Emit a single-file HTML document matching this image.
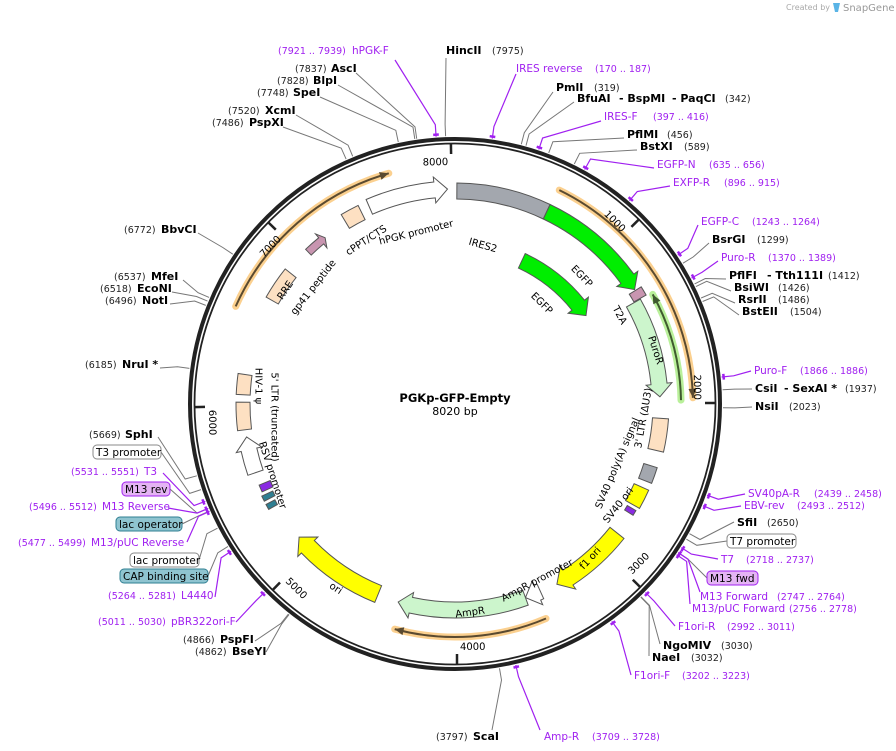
<!DOCTYPE html>
<html><head><meta charset="utf-8">
<style>
html,body{margin:0;padding:0;background:#fff;}
svg{display:block;font-family:"DejaVu Sans","Liberation Sans",sans-serif;}
.n{font-size:11px;font-weight:bold;fill:#000;}
.p{font-size:9.5px;fill:#222;}
.pu{font-size:10.5px;fill:#a020f0;}
.pp{font-size:9.5px;fill:#a020f0;}
.f{font-size:10.5px;fill:#000;}
.t{font-size:10px;fill:#000;}
</style></head><body>
<svg id="s" width="896" height="751" viewBox="0 0 896 751" xmlns="http://www.w3.org/2000/svg">
<g id="lines"></g>
<g id="feat"></g>
<circle cx="455" cy="404" r="265" fill="none" stroke="#222" stroke-width="4"/>
<circle cx="455" cy="404" r="260.5" fill="none" stroke="#222" stroke-width="1.8"/>
<g id="ticks"></g>

<text x="786" y="10" style="font-size:8px;fill:#aaa">Created by</text>
<path d="M833,3 L840,3 L838,12 L835,12 Z" fill="#5ab4e6"/>
<text x="843" y="11" style="font-size:10px;fill:#999">SnapGene</text>

<text x="455" y="402" text-anchor="middle" style="font-size:11.5px;font-weight:bold">PGKp-GFP-Empty</text>
<text x="455" y="415" text-anchor="middle" style="font-size:11px">8020 bp</text>

<!-- top labels -->
<text x="278" y="54" class="pp">(7921 .. 7939)</text><text x="352" y="54" class="pu">hPGK-F</text>
<text x="446" y="54" class="n">HincII</text><text x="492" y="54" class="p">(7975)</text>
<text x="516" y="72" class="pu">IRES reverse</text><text x="595" y="72" class="pp">(170 .. 187)</text>
<text x="295" y="72" class="p">(7837)</text><text x="331" y="72" class="n">AscI</text>
<text x="277" y="84" class="p">(7828)</text><text x="313" y="84" class="n">BlpI</text>
<text x="257" y="96" class="p">(7748)</text><text x="293" y="96" class="n">SpeI</text>
<text x="556" y="91" class="n">PmlI</text><text x="594" y="91" class="p">(319)</text>
<text x="577" y="102" class="n">BfuAI</text><text x="619" y="102" class="n">- BspMI</text><text x="672" y="102" class="n">- PaqCI</text><text x="725" y="102" class="p">(342)</text>
<text x="228" y="114" class="p">(7520)</text><text x="265" y="114" class="n">XcmI</text>
<text x="212" y="126" class="p">(7486)</text><text x="249" y="126" class="n">PspXI</text>
<text x="604" y="120" class="pu">IRES-F</text><text x="653" y="120" class="pp">(397 .. 416)</text>
<text x="627" y="138" class="n">PflMI</text><text x="667" y="138" class="p">(456)</text>
<text x="640" y="150" class="n">BstXI</text><text x="684" y="150" class="p">(589)</text>
<text x="657" y="168" class="pu">EGFP-N</text><text x="709" y="168" class="pp">(635 .. 656)</text>
<text x="673" y="186" class="pu">EXFP-R</text><text x="724" y="186" class="pp">(896 .. 915)</text>
<text x="124" y="233" class="p">(6772)</text><text x="161" y="233" class="n">BbvCI</text>
<text x="701" y="225" class="pu">EGFP-C</text><text x="752" y="225" class="pp">(1243 .. 1264)</text>
<text x="712" y="243" class="n">BsrGI</text><text x="757" y="243" class="p">(1299)</text>
<text x="721" y="261" class="pu">Puro-R</text><text x="768" y="261" class="pp">(1370 .. 1389)</text>
<text x="729" y="279" class="n">PflFI</text><text x="767" y="279" class="n">- Tth111I</text><text x="828" y="279" class="p">(1412)</text>
<text x="734" y="291" class="n">BsiWI</text><text x="778" y="291" class="p">(1426)</text>
<text x="738" y="303" class="n">RsrII</text><text x="778" y="303" class="p">(1486)</text>
<text x="742" y="315" class="n">BstEII</text><text x="790" y="315" class="p">(1504)</text>
<text x="114" y="280" class="p">(6537)</text><text x="151" y="280" class="n">MfeI</text>
<text x="100" y="292" class="p">(6518)</text><text x="137" y="292" class="n">EcoNI</text>
<text x="105" y="304" class="p">(6496)</text><text x="142" y="304" class="n">NotI</text>
<text x="85" y="368" class="p">(6185)</text><text x="122" y="368" class="n">NruI *</text>
<text x="754" y="374" class="pu">Puro-F</text><text x="800" y="374" class="pp">(1866 .. 1886)</text>
<text x="755" y="392" class="n">CsiI</text><text x="784" y="392" class="n">- SexAI *</text><text x="845" y="392" class="p">(1937)</text>
<text x="755" y="410" class="n">NsiI</text><text x="789" y="410" class="p">(2023)</text>

<!-- left lower -->
<text x="89" y="438" class="p">(5669)</text><text x="125" y="438" class="n">SphI</text>
<rect x="93" y="445" width="68" height="14" rx="4" fill="#fff" stroke="#888"/><text x="96" y="456" class="f">T3 promoter</text>
<text x="71" y="475" class="pp">(5531 .. 5551)</text><text x="144" y="475" class="pu">T3</text>
<rect x="122" y="482" width="48" height="14" rx="4" fill="#e4b4f4" stroke="#a020f0"/><text x="125" y="493" class="f">M13 rev</text>
<text x="29" y="510" class="pp">(5496 .. 5512)</text><text x="102" y="510" class="pu">M13 Reverse</text>
<rect x="116" y="517" width="66" height="14" rx="4" fill="#8fc4d0" stroke="#2f7f92"/><text x="119" y="528" class="f">lac operator</text>
<text x="18" y="546" class="pp">(5477 .. 5499)</text><text x="91" y="546" class="pu">M13/pUC Reverse</text>
<rect x="130" y="553" width="69" height="14" rx="4" fill="#fff" stroke="#888"/><text x="133" y="564" class="f">lac promoter</text>
<rect x="120" y="569" width="88" height="14" rx="4" fill="#8fc4d0" stroke="#2f7f92"/><text x="123" y="580" class="f">CAP binding site</text>
<text x="108" y="599" class="pp">(5264 .. 5281)</text><text x="181" y="599" class="pu">L4440</text>
<text x="98" y="625" class="pp">(5011 .. 5030)</text><text x="171" y="625" class="pu">pBR322ori-F</text>
<text x="183" y="643" class="p">(4866)</text><text x="220" y="643" class="n">PspFI</text>
<text x="195" y="655" class="p">(4862)</text><text x="232" y="655" class="n">BseYI</text>
<text x="436" y="740" class="p">(3797)</text><text x="473" y="740" class="n">ScaI</text>
<text x="544" y="740" class="pu">Amp-R</text><text x="592" y="740" class="pp">(3709 .. 3728)</text>

<!-- right lower -->
<text x="748" y="497" class="pu">SV40pA-R</text><text x="814" y="497" class="pp">(2439 .. 2458)</text>
<text x="744" y="509" class="pu">EBV-rev</text><text x="797" y="509" class="pp">(2493 .. 2512)</text>
<text x="737" y="526" class="n">SfiI</text><text x="767" y="526" class="p">(2650)</text>
<rect x="727" y="534" width="69" height="14" rx="4" fill="#fff" stroke="#888"/><text x="730" y="545" class="f">T7 promoter</text>
<text x="721" y="563" class="pu">T7</text><text x="746" y="563" class="pp">(2718 .. 2737)</text>
<rect x="707" y="571" width="51" height="14" rx="4" fill="#e4b4f4" stroke="#a020f0"/><text x="710" y="582" class="f">M13 fwd</text>
<text x="700" y="600" class="pu">M13 Forward</text><text x="777" y="600" class="pp">(2747 .. 2764)</text>
<text x="692" y="612" class="pu">M13/pUC Forward</text><text x="789" y="612" class="pp">(2756 .. 2778)</text>
<text x="678" y="630" class="pu">F1ori-R</text><text x="727" y="630" class="pp">(2992 .. 3011)</text>
<text x="663" y="649" class="n">NgoMIV</text><text x="721" y="649" class="p">(3030)</text>
<text x="652" y="661" class="n">NaeI</text><text x="691" y="661" class="p">(3032)</text>
<text x="634" y="679" class="pu">F1ori-F</text><text x="682" y="679" class="pp">(3202 .. 3223)</text>

<g id="tl" style="font-size:10px"></g>
</svg>
<script>
var cx=455,cy=404,NS="http://www.w3.org/2000/svg";
function P(a,r){var t=a*Math.PI/180;return [(cx+r*Math.sin(t)).toFixed(1),(cy-r*Math.cos(t)).toFixed(1)];}
function A(p){return p/8020*360;}
function el(g,tag,attrs){var e=document.createElementNS(NS,tag);for(var k in attrs)e.setAttribute(k,attrs[k]);document.getElementById(g).appendChild(e);return e;}
function band(a1,a2,r1,r2,head,fill,stroke,hpx){
 var rm=(r1+r2)/2,hl=(hpx||13)/rm*180/Math.PI,fl=5,b1=a1,b2=a2;
 if(head==1)b2=a2-hl; if(head==-1)b1=a1+hl;
 var lg=(b2-b1)>180?1:0,d="M"+P(b1,r2)+" A"+r2+" "+r2+" 0 "+lg+" 1 "+P(b2,r2)+" ";
 if(head==1)d+="L"+P(b2,r2+fl)+" L"+P(a2,rm)+" L"+P(b2,r1-fl)+" ";
 d+="L"+P(b2,r1)+" A"+r1+" "+r1+" 0 "+lg+" 0 "+P(b1,r1)+" ";
 if(head==-1)d+="L"+P(b1,r1-fl)+" L"+P(a1,rm)+" L"+P(b1,r2+fl)+" ";
 d+="Z";
 el("feat","path",{d:d,fill:fill,stroke:stroke||"#666","stroke-width":1});
}
function arcLine(a1,a2,r,head,col,halo){
 var d="M"+P(a1,r)+" A"+r+" "+r+" 0 0 1 "+P(a2,r);
 el("feat","path",{d:d,fill:"none",stroke:halo,"stroke-width":7,"stroke-linecap":"round"});
 el("feat","path",{d:d,fill:"none",stroke:col,"stroke-width":2});
 var hl=9/r*180/Math.PI,a=head==1?a2:a1,b=head==1?a2-hl:a1+hl;
 el("feat","path",{d:"M"+P(b,r+4)+" L"+P(a,r)+" L"+P(b,r-4)+" Z",fill:col});
}
arcLine(294,344,240,1,"#5a4a30","#fbd08f");
arcLine(26,88.5,238,1,"#5a4a30","#fbd08f");
arcLine(157,195,233,1,"#5a4a30","#fbd08f");
arcLine(61,89,226,-1,"#3f5a2f","#b9f09a");
band(336.5,358,207,223,1,"#fff","#555");
band(0.5,25.5,205,221,0,"#a3a7ae","#555");
band(25.5,57.5,205,221,1,"#00ee00","#555");
band(57.8,60.3,206,220,0,"#c895b0","#555");
band(60.5,88,197,213,1,"#ccf5cc","#555");
band(25,56,150,166,1,"#00ee00","#555");
band(94,103,198,214,0,"#fde0c2","#555");
band(107.5,112,198,212,0,"#a3a7ae","#555");
band(114,119.5,196,212,0,"#ffff00","#555");
band(128.5,150.5,198,216,1,"#ffff00","#555");
band(155.5,160,198,214,1,"#fff","#555");
band(160,196,198,214,1,"#ccf5cc","#555");
band(202,229.5,196,214,1,"#ffff00","#555");
band(251,261,203,219,1,"#fff","#555");
band(263,270.5,205,219,0,"#fde0c2","#555");
band(272.5,278,205,219,0,"#fde0c2","#555");
band(299.5,308.5,203,217,0,"#fde0c2","#555");
band(316,322,207,215,1,"#c895b0","#555",5);
band(329,334,205,221,0,"#fde0c2","#555");
band(245.5,247.5,200,212,0,"#8a2be2","#555");
band(243,244.5,202,214,0,"#2f7f92","#555");
band(240.5,242,204,214,0,"#2f7f92","#555");
band(120.5,122,200,210,0,"#8a2be2","#555");
// feature labels
var FL=[["IRES2",483,245,16],["EGFP",582,276,46],["EGFP",542,303,45],["T2A",620,315,62],["PuroR",656,350,72],
["hPGK promoter",416,232,-14],["cPPT/CTS",366,240,-33],["gp41 peptide",313,287,-52],["RRE",285,290,-56],
["HIV-1 ψ",259,386,90],["5' LTR (truncated)",275,417,90],["RSV promoter",273,475,72],["3' LTR (ΔU3)",643,418,-80],
["SV40 poly(A) signal",617,463,-67],["SV40 ori",618,505,-52],["f1 ori",590,558,-47],["AmpR promoter",537,580,-28],
["AmpR",470,612,-8],["ori",336,588,33]];
FL.forEach(function(f){var t=el("tl","text",{transform:"translate("+f[1]+","+f[2]+") rotate("+f[3]+")","text-anchor":"middle",dy:"3.5"});t.textContent=f[0];});
var ty=[1000,2000,3000,4000,5000,6000,7000,8000];
ty.forEach(function(p){var a=A(p),o=P(a,261),i=P(a,250);
 el("ticks","line",{x1:o[0],y1:o[1],x2:i[0],y2:i[1],stroke:"#222","stroke-width":2.5});
 var q=P(a,249),rot,anc;
 if(a>90&&a<270){rot=a-180;anc="start";}else{rot=a;anc="end";}
 var t=el("tl","text",{transform:"translate("+q[0]+","+q[1]+") rotate("+rot+")","text-anchor":anc});
 t.setAttribute("dx",anc=="end"?"-3":"3"); t.setAttribute("dy",anc=="end"?"10":"-3");
 t.textContent=String(p);
});
var L=[[7930,395,60,1],[7975,446,58,0],[178,516,74,1],[7837,356,73,0],[7828,338,85,0],[7748,320,97,0],
[319,553,92,0],[342,574,102,0],[7520,296,115,0],[7486,283,127,0],[406,601,121,1],[456,624,138,0],
[589,637,150,0],[645,654,168,1],[905,670,186,1],[6772,198,233,0],[1253,698,225,1],[1299,709,243,0],
[1380,718,261,1],[1412,726,279,0],[1426,731,291,0],[6537,183,280,0],[6518,172,292,0],[6496,170,304,0],
[1486,735,303,0],[1504,739,315,0],[6185,160,368,0],[1876,751,371,1],[1937,752,389,0],[2023,752,407,0],
[5669,158,437,0],[5600,161,452,0],[5541,163,473,1],[5504,170,489,0],[5504,168,508,1],[5490,182,524,0],
[5488,187,542,1],[5400,199,560,0],[5300,208,576,0],[5272,215,597,1],[5020,236,622,1],[4866,255,641,0],
[4862,266,652,0],[3797,492,730,0],[3718,540,730,1],[2448,745,494,1],[2502,741,506,1],[2650,734,522,0],
[2680,727,541,0],[2727,718,559,1],[2755,707,578,0],[2755,700,592,1],[2767,690,604,1],[3001,675,626,1],
[3030,660,644,0],[3032,649,656,0],[3212,631,675,1]];
L.forEach(function(l){var a=A(l[0]),s=P(a,268),m=P(a,280),c=l[3]?"#a020f0":"#777";
 el("lines","polyline",{points:s.join(",")+" "+m.join(",")+" "+l[1]+","+l[2],fill:"none",stroke:c,"stroke-width":l[3]?1.2:1});
 if(l[3]){var b1=P(a-0.6,270),b2=P(a+0.6,270);el("lines","line",{x1:b1[0],y1:b1[1],x2:b2[0],y2:b2[1],stroke:"#a020f0","stroke-width":2.5});}
});
</script>
</body></html>
